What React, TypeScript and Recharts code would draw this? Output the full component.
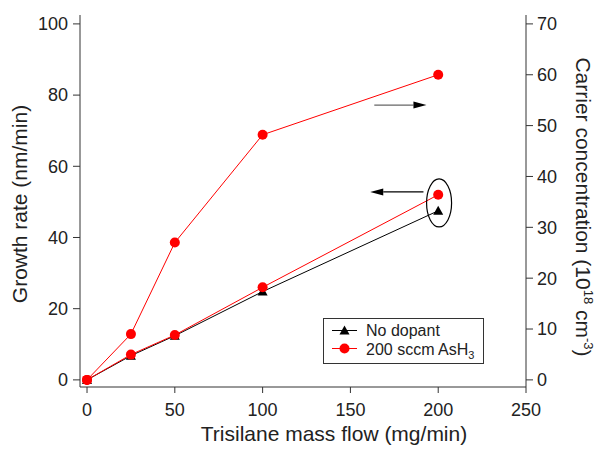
import { ComposedChart, Line, XAxis, YAxis, ReferenceLine, ReferenceDot, Legend, Label } from 'recharts';

// Trisilane mass flow (mg/min)
const flow = [0, 25, 50, 100, 200];
// growth rate (nm/min), left axis
const growthNoDopant = [0, 6.8, 12.4, 24.8, 47.5];
const growthAsH3 = [0, 7.1, 12.6, 26.0, 52.0];
// carrier concentration (1e18 cm^-3), right axis
const carrierAsH3 = [0, 9.0, 27.0, 48.2, 60.0];

const xTicks = [0, 50, 100, 150, 200, 250];
const topTicks = [0, 50, 100, 150, 200];
const growthTicks = [0, 20, 40, 60, 80, 100];
const carrierTicks = [0, 10, 20, 30, 40, 50, 60, 70];

const data = flow.map((f, i) => ({
  flow: f,
  noDopant: growthNoDopant[i],
  growth: growthAsH3[i],
  carrier: carrierAsH3[i],
}));

const FONT = '"Liberation Sans", Arial, Helvetica, sans-serif';
const AXIS = '#333';
const TEXT = '#222';
const RED = '#ff0000';

const tickStyle = { fill: TEXT, fontSize: 18, fontFamily: FONT };

const Triangle = (props: any) => {
  const { cx, cy } = props;
  if (cx == null || cy == null) return <g />;
  return <polygon points={`${cx - 5},${cy + 4} ${cx + 5},${cy + 4} ${cx},${cy - 5}`} fill="#000" />;
};

const makeArrow = (lineColor: string) => (props: any) => {
  const { x1, y1, x2, y2 } = props;
  const ang = Math.atan2(y2 - y1, x2 - x1);
  const len = 13;
  const w = 3.5;
  const bx = x2 - len * Math.cos(ang);
  const by = y2 - len * Math.sin(ang);
  const px = -Math.sin(ang) * w;
  const py = Math.cos(ang) * w;
  return (
    <g>
      <line x1={x1} y1={y1} x2={bx} y2={by} stroke={lineColor} strokeWidth={1.2} />
      <polygon points={`${x2},${y2} ${bx + px},${by + py} ${bx - px},${by - py}`} fill="#000" />
    </g>
  );
};

const Ellipse = (props: any) => {
  const { cx, cy } = props;
  return <ellipse cx={cx} cy={cy} rx={12.5} ry={24} fill="none" stroke="#000" strokeWidth={1.2} />;
};

const LegendBox = () => (
  <svg width={161} height={46} style={{ display: 'block' }}>
    <rect x={0.5} y={0.5} width={160} height={45} fill="#fff" stroke={AXIS} strokeWidth={1} />
    <line x1={9} y1={12.5} x2={34} y2={12.5} stroke="#000" strokeWidth={1} />
    <polygon points="16.5,16.5 26.5,16.5 21.5,7.5" fill="#000" />
    <text x={43} y={18} fontSize={16} fontFamily={FONT} fill={TEXT}>No dopant</text>
    <line x1={9} y1={30.5} x2={34} y2={30.5} stroke={RED} strokeWidth={1} />
    <circle cx={21.5} cy={30.5} r={5} fill={RED} />
    <text x={43} y={36.5} fontSize={16} fontFamily={FONT} fill={TEXT}>
      200 sccm AsH<tspan dy={4} fontSize={11}>3</tspan>
    </text>
  </svg>
);

export default function App() {
  return (
    <div style={{ position: 'absolute', left: 0, top: 0, background: '#fff' }}>
      <ComposedChart width={601} height={450} data={data} margin={{ top: 15, right: 0, bottom: 0, left: 0 }}>
        <XAxis
          xAxisId="bottom"
          dataKey="flow"
          type="number"
          domain={[-4, 250]}
          ticks={xTicks}
          allowDataOverflow
          height={63}
          stroke={AXIS}
          tickSize={6}
          tickMargin={10}
          tick={tickStyle}
        >
          <Label
            content={() => (
              <text x={334} y={441} textAnchor="middle" fontSize={21} fontFamily={FONT} fill={TEXT}>
                Trisilane mass flow (mg/min)
              </text>
            )}
          />
        </XAxis>
        <XAxis
          xAxisId="top"
          orientation="top"
          dataKey="flow"
          type="number"
          domain={[-4, 250]}
          ticks={topTicks}
          allowDataOverflow
          height={0}
          stroke={AXIS}
          tickSize={6}
          tick={() => <g />}
        />
        <YAxis
          yAxisId="left"
          type="number"
          domain={[-2, 102.5]}
          ticks={growthTicks}
          allowDataOverflow
          width={80}
          stroke={AXIS}
          tickSize={7}
          tickMargin={5}
          tick={tickStyle}
        >
          <Label
            content={() => (
              <text
                x={27}
                y={204}
                transform="rotate(-90, 27, 204)"
                textAnchor="middle"
                fontSize={21}
                fontFamily={FONT}
                fill={TEXT}
              >
                Growth rate (nm/min)
              </text>
            )}
          />
        </YAxis>
        <YAxis
          yAxisId="right"
          orientation="right"
          type="number"
          domain={[-1.4, 71.75]}
          ticks={carrierTicks}
          allowDataOverflow
          width={75}
          stroke={AXIS}
          tickSize={7}
          tickMargin={4}
          tick={tickStyle}
        >
          <Label
            content={() => (
              <text
                x={576}
                y={207}
                transform="rotate(90, 576, 207)"
                textAnchor="middle"
                fontSize={21}
                fontFamily={FONT}
                fill={TEXT}
              >
                Carrier concentration (10<tspan dy={-8} fontSize={13}>18</tspan>
                <tspan dy={8}> cm</tspan>
                <tspan dy={-8} fontSize={13}>-3</tspan>
                <tspan dy={8}>)</tspan>
              </text>
            )}
          />
        </YAxis>

        <Legend
          layout="vertical"
          align="center"
          verticalAlign="middle"
          wrapperStyle={{ left: 323, top: 318, width: 161, height: 46 }}
          content={() => <LegendBox />}
        />

        <Line
          xAxisId="bottom"
          yAxisId="left"
          dataKey="noDopant"
          type="linear"
          stroke="#000"
          strokeWidth={1}
          dot={<Triangle />}
          activeDot={false}
          isAnimationActive={false}
        />
        <Line
          xAxisId="bottom"
          yAxisId="left"
          dataKey="growth"
          type="linear"
          stroke={RED}
          strokeWidth={1}
          dot={{ r: 5, fill: RED, stroke: RED, strokeWidth: 0 }}
          activeDot={false}
          isAnimationActive={false}
        />
        <Line
          xAxisId="bottom"
          yAxisId="right"
          dataKey="carrier"
          type="linear"
          stroke={RED}
          strokeWidth={1}
          dot={{ r: 5, fill: RED, stroke: RED, strokeWidth: 0 }}
          activeDot={false}
          isAnimationActive={false}
        />

        <ReferenceDot xAxisId="bottom" yAxisId="left" x={200.5} y={49.7} shape={Ellipse} />
        <ReferenceLine
          xAxisId="bottom"
          yAxisId="left"
          segment={[{ x: 163.6, y: 77.2 }, { x: 193.3, y: 77.2 }]}
          shape={makeArrow('#666')}
        />
        <ReferenceLine
          xAxisId="bottom"
          yAxisId="left"
          segment={[{ x: 191.6, y: 52.8 }, { x: 161.3, y: 52.8 }]}
          shape={makeArrow('#000')}
        />
      </ComposedChart>
    </div>
  );
}
